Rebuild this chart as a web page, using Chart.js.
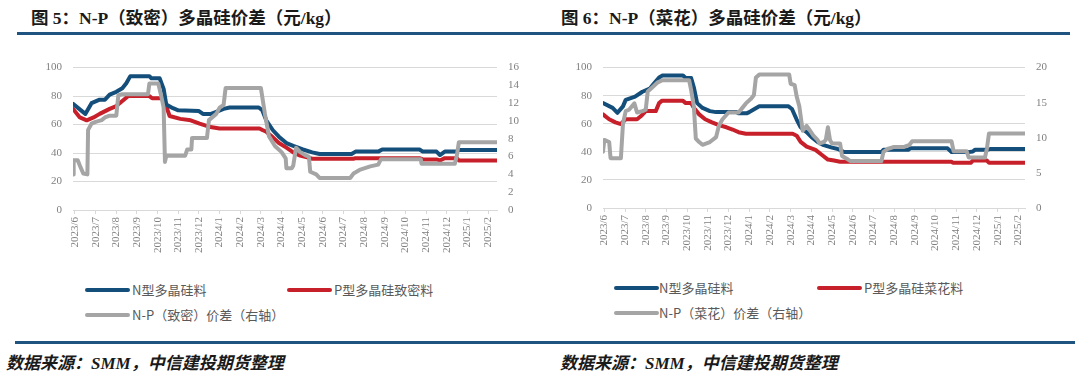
<!DOCTYPE html>
<html>
<head>
<meta charset="utf-8">
<script src="https://cdn.jsdelivr.net/npm/chart.js@4"></script>
<style>
  body { margin: 0; width: 1080px; height: 377px; background: #fff; position: relative; overflow: hidden; }
  .abs { position: absolute; }
  .title { font-family: "Liberation Serif", "Noto Sans CJK SC", serif; font-weight: bold; font-size: 17.5px; color: #1a1a1a; top: 4px; white-space: nowrap; }
  .rule { background: #1f5380; height: 3px; }
  .src { font-family: "Liberation Serif", "Noto Sans CJK SC", serif; font-weight: bold; font-style: italic; font-size: 17px; color: #1a1a1a; top: 349px; white-space: nowrap; }
  .lg-line { height: 4px; border-radius: 2px; width: 45px; }
  .lg-text { font-family: "Noto Sans CJK SC", sans-serif; font-size: 13px; color: #595959; white-space: nowrap; line-height: 16px; }
</style>
</head>
<body>
<div class="abs title" style="left:31px">图 5：N-P（致密）多晶硅价差（元/kg）</div>
<div class="abs title" style="left:561px">图 6：N-P（菜花）多晶硅价差（元/kg）</div>
<div class="abs rule" style="left:17px; top:32px; width:1053px"></div>

<div class="abs" style="left:20px; top:50px"><canvas id="c1" width="510" height="210"></canvas></div>
<div class="abs" style="left:550px; top:50px"><canvas id="c2" width="510" height="208"></canvas></div>

<div class="abs lg-line" style="left:85px; top:288px; background:#144e7a"></div>
<div class="abs lg-text" style="left:132px; top:282px">N型多晶硅料</div>
<div class="abs lg-line" style="left:287px; top:288px; background:#c8202a"></div>
<div class="abs lg-text" style="left:334px; top:282px">P型多晶硅致密料</div>
<div class="abs lg-line" style="left:85px; top:313px; background:#a5a5a5"></div>
<div class="abs lg-text" style="left:132px; top:307px">N-P（致密）价差（右轴）</div>

<div class="abs lg-line" style="left:614px; top:286px; background:#144e7a"></div>
<div class="abs lg-text" style="left:659px; top:280px">N型多晶硅料</div>
<div class="abs lg-line" style="left:817px; top:286px; background:#c8202a"></div>
<div class="abs lg-text" style="left:864px; top:280px">P型多晶硅菜花料</div>
<div class="abs lg-line" style="left:614px; top:311px; background:#a5a5a5"></div>
<div class="abs lg-text" style="left:659px; top:305px">N-P（菜花）价差（右轴）</div>

<div class="abs rule" style="left:15px; top:341px; width:1060px"></div>
<div class="abs src" style="left:6px">数据来源：SMM，中信建投期货整理</div>
<div class="abs src" style="left:560px">数据来源：SMM，中信建投期货整理</div>

<script>
// month tick labels (both charts)
const monthLabels = ['2023/6','2023/7','2023/8','2023/9','2023/10','2023/11','2023/12',
  '2024/1','2024/2','2024/3','2024/4','2024/5','2024/6','2024/7','2024/8','2024/9',
  '2024/10','2024/11','2024/12','2025/1','2025/2'];

// chart 5: N-P dense (yuan/kg), [date, value]
const nType5 = [
  ['2023-05-29',74.5],['2023-06-16',67.5],['2023-06-25',75],['2023-07-07',77.5],['2023-07-15',77.5],
  ['2023-07-22',81],['2023-08-01',83],['2023-08-10',85.5],['2023-08-16',89],['2023-08-22',94],
  ['2023-09-19',94],['2023-09-22',92.5],['2023-10-04',92.5],['2023-10-10',85],['2023-10-14',74],
  ['2023-10-24',71.5],['2023-11-01',70],['2023-12-01',69.5],['2023-12-07',67.5],['2023-12-19',67.5],
  ['2023-12-25',68.5],['2024-01-07',71],['2024-01-16',72],['2024-02-27',72],['2024-03-03',70],
  ['2024-03-09',63],['2024-03-19',56],['2024-03-28',51.5],['2024-04-08',47],['2024-04-18',45],
  ['2024-05-02',42.5],['2024-05-16',40.5],['2024-05-27',39.3],['2024-07-13',39.3],['2024-07-19',41],
  ['2024-08-22',41],['2024-08-28',42.5],['2024-10-22',42.5],['2024-10-27',41],['2024-11-16',41],
  ['2024-11-21',38.6],['2024-11-28',41],['2024-12-16',41],['2024-12-19',42.2],['2025-02-13',42.2]
];
const pDense5 = [
  ['2023-05-29',71],['2023-06-08',65],['2023-06-18',63],['2023-06-28',65],['2023-07-07',67.5],
  ['2023-07-22',71],['2023-08-01',73],['2023-08-10',76.5],['2023-08-19',80],['2023-09-19',80],
  ['2023-09-23',78.5],['2023-10-08',78.5],['2023-10-13',74],['2023-10-19',66],['2023-11-04',64],
  ['2023-11-19',63],['2023-12-02',60.7],['2023-12-16',58.5],['2024-01-01',57.3],['2024-02-28',57.3],
  ['2024-03-04',56],['2024-03-09',55],['2024-03-19',51],['2024-03-28',47],['2024-04-08',43.8],
  ['2024-04-18',40.5],['2024-04-28',38.2],['2024-05-13',36.4],['2024-05-16',36],['2024-07-16',36],
  ['2024-07-19',36.4],['2024-10-22',36.4],['2024-10-27',35.5],['2024-11-16',35.5],['2024-11-21',34.8],
  ['2024-11-28',36.4],['2024-12-16',36.4],['2024-12-19',34.8],['2025-02-13',34.8]
];
const spread5 = [
  ['2023-05-29',4.0],['2023-05-30',5.6],['2023-06-05',5.6],['2023-06-08',5.0],['2023-06-13',4.1],
  ['2023-06-19',4.0],['2023-06-20',9.0],['2023-06-25',9.7],['2023-07-01',9.9],['2023-07-10',10.1],
  ['2023-07-15',10.4],['2023-07-22',10.6],['2023-08-01',10.6],['2023-08-04',12.9],['2023-08-10',13.0],
  ['2023-09-17',13.0],['2023-09-19',14.2],['2023-10-02',14.2],['2023-10-07',12.6],['2023-10-10',11.5],
  ['2023-10-12',5.4],['2023-10-14',6.1],['2023-11-11',6.1],['2023-11-14',6.8],['2023-11-20',6.8],
  ['2023-11-21',8.1],['2023-12-13',8.1],['2023-12-16',10.1],['2023-12-27',10.8],['2024-01-01',11.5],
  ['2024-01-07',11.8],['2024-01-10',13.7],['2024-03-01',13.7],['2024-03-07',10.8],['2024-03-13',8.3],
  ['2024-03-22',7.2],['2024-04-01',6.5],['2024-04-07',5.8],['2024-04-08',4.7],['2024-04-16',4.7],
  ['2024-04-18',5.0],['2024-04-22',7.0],['2024-04-28',6.5],['2024-05-07',6.1],['2024-05-11',6.0],
  ['2024-05-13',4.3],['2024-05-22',4.0],['2024-05-27',3.6],['2024-07-11',3.6],['2024-07-16',4.1],
  ['2024-07-25',4.5],['2024-08-10',4.9],['2024-08-22',5.1],['2024-08-26',5.7],['2024-10-24',5.7],
  ['2024-10-25',5.2],['2024-12-13',5.2],['2024-12-16',6.1],['2024-12-19',7.6],['2025-02-13',7.6]
];

// chart 6: N-P cauliflower (yuan/kg)
const nType6 = [
  ['2023-05-30',74.7],['2023-06-13',71.3],['2023-06-20',67.8],['2023-06-28',72.4],['2023-07-02',77],
  ['2023-07-16',79.3],['2023-07-27',82.8],['2023-08-07',85],['2023-08-13',88.5],['2023-08-21',93],
  ['2023-08-26',94.3],['2023-09-25',94.3],['2023-09-29',92.6],['2023-10-07',92.6],['2023-10-11',86],
  ['2023-10-16',74.7],['2023-10-24',71.3],['2023-11-04',69],['2023-11-13',68.3],['2023-12-13',68.3],
  ['2023-12-16',67.4],['2023-12-28',67.4],['2024-01-01',68.3],['2024-01-07',70],['2024-01-16',72.4],
  ['2024-02-27',72.4],['2024-03-03',70.5],['2024-03-10',63],['2024-03-16',57.5],['2024-03-25',54],
  ['2024-04-01',50.6],['2024-04-10',47.1],['2024-04-19',44.8],['2024-05-01',43],['2024-05-10',42],
  ['2024-05-19',39.8],['2024-07-13',39.8],['2024-07-16',41.4],['2024-08-22',41.4],['2024-08-25',42.5],
  ['2024-10-19',42.5],['2024-10-25',39.8],['2024-11-19',39.8],['2024-11-25',40.2],['2024-11-28',41.4],
  ['2024-12-16',41.4],['2024-12-22',42.1],['2025-02-10',42.1]
];
const pFlower6 = [
  ['2023-05-30',66.7],['2023-06-08',63.2],['2023-06-17',61],['2023-06-25',59.8],['2023-07-02',63.2],
  ['2023-07-19',63.2],['2023-07-25',65.5],['2023-08-01',69],['2023-08-16',69],['2023-08-21',74.7],
  ['2023-08-25',76.3],['2023-09-25',76.3],['2023-09-29',74.7],['2023-10-07',74.7],['2023-10-11',71.3],
  ['2023-10-19',66.7],['2023-10-28',63.2],['2023-11-07',61],['2023-11-17',59],['2023-11-28',57.5],
  ['2023-12-07',55.9],['2023-12-16',54],['2023-12-27',52.9],['2024-03-04',52.9],['2024-03-10',51.5],
  ['2024-03-16',47.1],['2024-03-25',43.7],['2024-04-07',41.4],['2024-04-16',37.9],['2024-04-25',34.5],
  ['2024-05-04',33.8],['2024-05-13',33],['2024-10-25',33],['2024-10-27',32.2],['2024-11-22',32.2],
  ['2024-11-25',33.8],['2024-12-16',33.8],['2024-12-19',32.2],['2025-02-10',32.2]
];
const spread6 = [
  ['2023-05-30',8.0],['2023-06-01',9.7],['2023-06-08',9.4],['2023-06-10',7.1],['2023-06-25',7.1],
  ['2023-06-28',12.0],['2023-07-02',13.8],['2023-07-07',14.0],['2023-07-15',14.9],['2023-07-19',13.6],
  ['2023-07-27',13.8],['2023-08-01',14.0],['2023-08-04',16.6],['2023-08-11',17.2],['2023-08-19',17.9],
  ['2023-08-26',18.2],['2023-10-04',18.2],['2023-10-07',16.8],['2023-10-11',14.5],['2023-10-14',9.9],
  ['2023-10-19',9.4],['2023-10-24',9.0],['2023-11-04',9.4],['2023-11-13',10.1],['2023-11-17',11.7],
  ['2023-11-22',12.6],['2023-12-01',13.6],['2023-12-16',13.6],['2023-12-22',14.3],['2023-12-27',14.9],
  ['2024-01-04',15.6],['2024-01-08',16.1],['2024-01-11',18.6],['2024-01-16',19.0],['2024-02-28',19.0],
  ['2024-03-01',17.7],['2024-03-07',17.5],['2024-03-10',15.9],['2024-03-14',14.5],['2024-03-19',11.0],
  ['2024-03-25',11.7],['2024-03-28',11.3],['2024-04-04',10.3],['2024-04-10',9.7],['2024-04-13',9.2],
  ['2024-04-19',9.4],['2024-04-22',9.7],['2024-04-25',11.5],['2024-04-28',9.7],['2024-05-01',9.2],
  ['2024-05-13',9.2],['2024-05-16',7.4],['2024-05-25',6.9],['2024-05-28',6.7],['2024-07-13',6.7],
  ['2024-07-16',8.0],['2024-07-22',8.4],['2024-08-01',8.7],['2024-08-16',8.7],['2024-08-24',9.0],
  ['2024-08-28',9.5],['2024-10-25',9.5],['2024-10-28',8.1],['2024-11-16',8.1],['2024-11-19',7.2],
  ['2024-12-13',7.2],['2024-12-16',8.5],['2024-12-19',10.6],['2025-02-10',10.6]
];

const BLUE = '#144e7a', RED = '#c8202a', GREY = '#a5a5a5';
const tickFont = { family: "'Liberation Serif', 'DejaVu Serif', serif", size: 11 };

// date -> months since 2023/6
function toM(s) {
  const [y, mo, d] = s.split('-').map(Number);
  const days = new Date(y, mo, 0).getDate();
  return (y - 2023) * 12 + (mo - 6) + (d - 1) / days;
}
const pts = arr => arr.map(([d, v]) => ({ x: toM(d), y: v }));

function line(label, arr, color, axis, order) {
  return {
    label, data: pts(arr), borderColor: color, backgroundColor: color,
    borderWidth: 4, pointRadius: 0, tension: 0, yAxisID: axis, order,
    borderCapStyle: 'round', borderJoinStyle: 'round'
  };
}

function makeChart(id, datasets, xStart, xEnd, rMax, rStep, padTop, rWidth) {
  new Chart(document.getElementById(id), {
    type: 'line',
    data: { datasets },
    options: {
      responsive: false, animation: false, devicePixelRatio: 1,
      layout: { padding: { top: padTop, bottom: 0, left: 0, right: 0 } },
      plugins: { legend: { display: false }, tooltip: { enabled: false } },
      scales: {
        x: {
          type: 'linear', min: toM(xStart), max: toM(xEnd),
          afterBuildTicks: s => { s.ticks = monthLabels.map((_, i) => ({ value: i })); },
          afterFit: s => { s.height = 50; },
          ticks: {
            callback: v => monthLabels[v], autoSkip: false, minRotation: 90, maxRotation: 90,
            color: '#7f7f7f', font: tickFont, padding: 3
          },
          grid: { drawOnChartArea: false, drawTicks: true, tickLength: 4, color: '#d9d9d9' },
          border: { color: '#d9d9d9' }
        },
        y: {
          position: 'left', min: 0, max: 100,
          afterFit: s => { s.width = 53; },
          ticks: { stepSize: 20, color: '#7f7f7f', font: tickFont, padding: 11 },
          grid: { color: '#d9d9d9', drawTicks: false },
          border: { display: false }
        },
        y1: {
          position: 'right', min: 0, max: rMax,
          afterFit: s => { s.width = rWidth; },
          ticks: { stepSize: rStep, color: '#7f7f7f', font: tickFont, padding: 11 },
          grid: { display: false, drawTicks: false },
          border: { display: false }
        }
      }
    }
  });
}

makeChart('c1', [
  line('N型多晶硅料', nType5, BLUE, 'y', 1),
  line('P型多晶硅致密料', pDense5, RED, 'y', 2),
  line('N-P（致密）价差（右轴）', spread5, GREY, 'y1', 0)
], '2023-05-29', '2025-02-13', 16, 2, 12, 33);

makeChart('c2', [
  line('N型多晶硅料', nType6, BLUE, 'y', 1),
  line('P型多晶硅菜花料', pFlower6, RED, 'y', 2),
  line('N-P（菜花）价差（右轴）', spread6, GREY, 'y1', 0)
], '2023-05-30', '2025-02-10', 20, 5, 13, 35);
</script>
</body>
</html>
